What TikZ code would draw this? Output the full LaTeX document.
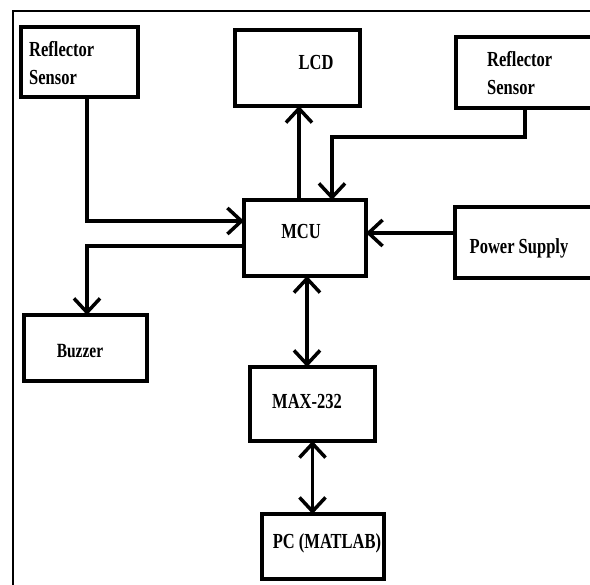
\documentclass[tikz,border=0pt]{standalone}
\usepackage{fontspec}
\setmainfont{Liberation Serif}
\usetikzlibrary{arrows.meta,calc}
\tikzset{
  blk/.style={draw, line width=4.5pt, inner sep=0pt, outer sep=0pt, fill=white},
  txt/.style={font=\fontsize{16.5}{28}\selectfont\bfseries, inner sep=0pt, align=left},
  conn/.style={line width=3.5pt},
  tip/.style={-{Straight Barb[length=14pt,width=26pt,line width=3.5pt]}},
  tips/.style={{Straight Barb[length=14pt,width=26pt,line width=3.5pt]}-{Straight Barb[length=14pt,width=26pt,line width=3.5pt]}}
}
\newcommand{\tall}[1]{\scalebox{1}[1.3]{#1}}
\begin{document}
\begin{tikzpicture}[x=1pt,y=-1pt]
\clip (0,0) rectangle (590,585);
\fill[white] (0,0) rectangle (590,585);
% frame
\draw[line width=2pt] (13,586) -- (13,11) -- (591,11);
% boxes
\node[blk, minimum width=117pt, minimum height=70pt] (rs1) at (79.5,62) {};
\node[blk, minimum width=125pt, minimum height=76pt] (lcd) at (297.5,68) {};
\node[blk, minimum width=150pt, minimum height=71pt] (rs2) at (531,72.5) {};
\node[blk, minimum width=122pt, minimum height=76pt] (mcu) at (305,238) {};
\node[blk, minimum width=150pt, minimum height=71pt] (ps) at (530,242.5) {};
\node[blk, minimum width=123pt, minimum height=66pt] (buz) at (85.5,348) {};
\node[blk, minimum width=125pt, minimum height=74pt] (max) at (312.5,404) {};
\node[blk, minimum width=122pt, minimum height=65pt] (pc) at (323,546.5) {};
% texts
\node[txt, anchor=west] (rs1t) at (29,63) {\tall{Reflector}\\\tall{Sensor}};
\node[txt] (lcdt) at (316,63) {\tall{LCD}};
\node[txt, anchor=west] (rs2t) at (487,73) {\tall{Reflector}\\\tall{Sensor}};
\node[txt] (mcut) at (301,232) {\tall{MCU}};
\node[txt] (pst) at (519,248) {\tall{Power Supply}};
\node[txt, font=\fontsize{15.5}{20}\selectfont\bfseries] (buzt) at (80,351) {\tall{Buzzer}};
\node[txt] (maxt) at (307,402) {\tall{MAX-232}};
\node[txt] (pct) at (327,543) {\tall{PC (MATLAB)}};
% connectors
\coordinate (j1) at (525,137);
\coordinate (j2) at (332,137);
\draw[conn, tip] ([xshift=7.5pt]rs1.south) |- ([yshift=17pt]mcu.west);
\draw[conn, tip] ([xshift=-6pt]mcu.north) -- ([xshift=-6pt]mcu.north |- lcd.south);
\draw[conn, tip] (j1 |- rs2.south) -- (j1) -- (j2) -- (j2 |- mcu.north);
\draw[conn, tip] ([yshift=9.5pt]ps.west) -- ([yshift=9.5pt]ps.west -| mcu.east);
\draw[conn, tip] ([yshift=-8pt]mcu.west) -| ([xshift=1.5pt]buz.north);
\draw[conn, tips] ([xshift=2pt]mcu.south) -- ([xshift=2pt]mcu.south |- max.north);
\draw[conn, tips] (max.south) -- (max.south |- pc.north);
\end{tikzpicture}
\end{document}
